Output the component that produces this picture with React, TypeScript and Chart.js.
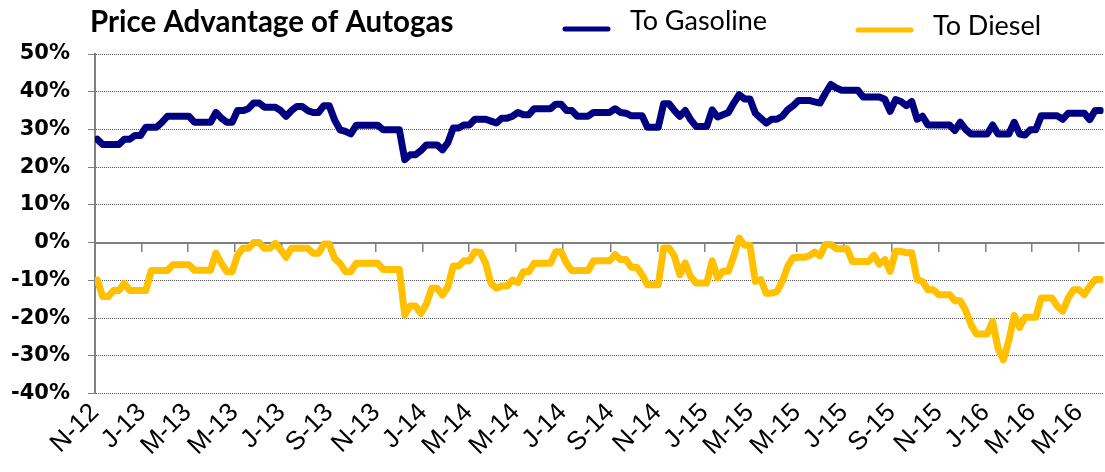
import { useEffect, useRef } from "react";
import { Chart, registerables } from "chart.js";

Chart.register(...registerables);

const chartTitle = "Price Advantage of Autogas";
const seriesNames = ["To Gasoline", "To Diesel"];
const seriesColors = ["#000080", "#FFC000"];

const tickMonths = [
  "2012-11", "2013-01", "2013-03", "2013-05", "2013-07", "2013-09", "2013-11",
  "2014-01", "2014-03", "2014-05", "2014-07", "2014-09", "2014-11",
  "2015-01", "2015-03", "2015-05", "2015-07", "2015-09", "2015-11",
  "2016-01", "2016-03", "2016-05",
];
const tickLabels = [
  "N-12", "J-13", "M-13", "M-13", "J-13", "S-13", "N-13",
  "J-14", "M-14", "M-14", "J-14", "S-14", "N-14",
  "J-15", "M-15", "M-15", "J-15", "S-15", "N-15",
  "J-16", "M-16", "M-16",
];
const axisStart = "2012-11-01";
const axisEnd = "2016-06-02";
const firstWeek = "2012-11-04";

const yMin = -40;
const yMax = 50;
const yStep = 10;

// weekly values, %
const toGasoline = [
  27.4, 26, 26, 26, 26, 27.4, 27.4, 28.4, 28.4, 30.6,
  30.6, 30.6, 31.9, 33.5, 33.5, 33.5, 33.5, 33.5, 31.9, 31.9,
  31.9, 31.9, 34.5, 33, 31.9, 31.9, 35, 35, 35.5, 37,
  37, 35.9, 35.9, 35.9, 35, 33.5, 35, 36.1, 36.1, 35,
  34.5, 34.5, 36.3, 36.3, 32.5, 29.9, 29.5, 28.8, 31.1, 31.1,
  31.1, 31.1, 31.1, 29.9, 29.9, 29.9, 29.9, 22, 23.3, 23.3,
  24.4, 25.9, 25.9, 25.9, 24.6, 26.5, 30.4, 30.4, 31.2, 31.2,
  32.7, 32.7, 32.7, 32.2, 31.7, 33, 33, 33.5, 34.5, 33.9,
  33.9, 35.5, 35.5, 35.5, 35.5, 36.7, 36.7, 35, 35, 33.5,
  33.5, 33.5, 34.5, 34.5, 34.5, 34.5, 35.5, 34.5, 34.3, 33.6,
  33.6, 33.6, 30.6, 30.6, 30.6, 36.8, 36.8, 35, 33.5, 35,
  32.6, 30.8, 30.8, 30.8, 35.2, 33.3, 33.9, 34.5, 37, 39.2,
  38.1, 38.1, 34.3, 33, 31.7, 32.7, 32.7, 33.5, 35.2, 36.3,
  37.7, 37.7, 37.7, 37.3, 37, 39.6, 41.9, 41, 40.4, 40.4,
  40.4, 40.4, 38.6, 38.6, 38.6, 38.6, 38, 34.8, 37.9, 37.4,
  36.3, 37.4, 32.7, 33.5, 31.2, 31.2, 31.2, 31.2, 31.2, 29.7,
  31.9, 30, 28.8, 28.8, 28.8, 28.8, 31.2, 28.8, 28.8, 28.8,
  31.9, 28.8, 28.5, 29.9, 29.9, 33.6, 33.6, 33.6, 33.6, 32.7,
  34.3, 34.3, 34.3, 34.3, 32.6, 35, 35,
];

const toDiesel = [
  -9.9, -14.3, -14.3, -12.7, -12.7, -10.8, -12.7, -12.7, -12.7, -12.7,
  -7.4, -7.4, -7.4, -7.4, -5.9, -5.9, -5.9, -5.9, -7.3, -7.3,
  -7.3, -7.3, -2.8, -5.5, -7.7, -7.7, -3.3, -1.5, -1.5, 0,
  0, -1.5, -1.5, -0.2, -1.9, -3.9, -1.5, -1.5, -1.5, -1.5,
  -2.8, -2.8, -0.4, -0.4, -4.2, -5.5, -7.7, -7.7, -5.5, -5.5,
  -5.5, -5.5, -5.5, -7.1, -7.1, -7.1, -7.1, -19.2, -16.8, -16.8,
  -18.8, -16.3, -12.1, -12.1, -13.9, -11.7, -6.2, -6.2, -4.8, -4.8,
  -2.4, -2.6, -5.5, -10.8, -12.1, -11.5, -11.5, -9.9, -10.6, -7.7,
  -7.7, -5.5, -5.5, -5.5, -5.5, -2.4, -2.4, -5.5, -7.4, -7.4,
  -7.4, -7.4, -4.8, -4.8, -4.8, -4.8, -3.2, -4.5, -4.5, -6.5,
  -6.5, -8.5, -11.2, -11.2, -11.2, -1.4, -1.4, -3.6, -8.5, -5.4,
  -9, -10.7, -10.7, -10.7, -4.8, -9.4, -7.6, -7.6, -3.6, 1.2,
  -0.7, -0.7, -10.3, -9.8, -13.4, -13.4, -13, -10.3, -6.3, -4,
  -3.9, -3.9, -3.5, -2.5, -3.5, -0.5, -0.5, -1.6, -1.6, -1.6,
  -5, -5, -5, -5, -3.4, -5.7, -4.5, -7.6, -2.3, -2.3,
  -2.7, -2.7, -9.8, -10.3, -12.5, -12.5, -13.8, -13.8, -13.8, -15.4,
  -15.4, -18, -21.8, -24.2, -24.2, -24.2, -20.9, -28, -31.1, -26,
  -19.3, -22.5, -19.8, -19.8, -19.8, -14.7, -14.7, -14.7, -16.9, -18.2,
  -14.7, -12.5, -12.5, -13.8, -11.6, -9.8, -9.8,
];

const ORIGIN = Date.UTC(2012, 10, 1);
const dayOf = (s: string) => {
  const [y, m, d] = s.split("-").map(Number);
  return Math.round((Date.UTC(y, m - 1, d || 1) - ORIGIN) / 86400000);
};

const tickDays = tickMonths.map(dayOf);
const xMin = dayOf(axisStart);
const xMax = dayOf(axisEnd);
const weekStart = dayOf(firstWeek);
const weekDays = toGasoline.map((_, i) => weekStart + 7 * i);

const headerPlugin = {
  id: "header",
  afterDraw(chart: any) {
    const ctx = chart.ctx as CanvasRenderingContext2D;
    ctx.save();
    ctx.fillStyle = "#000";
    ctx.textBaseline = "alphabetic";
    ctx.textAlign = "left";
    ctx.font = "bold 29.5px Lato";
    ctx.fillText(chartTitle, 90, 32);
    const spots = [
      { x1: 565, x2: 608, ly: 29, tx: 630, ty: 30 },
      { x1: 858, x2: 911, ly: 30, tx: 933, ty: 35 },
    ];
    chart.data.datasets.forEach((ds: any, i: number) => {
      const p = spots[i];
      if (!p) return;
      ctx.strokeStyle = ds.borderColor;
      ctx.lineWidth = 5;
      ctx.lineCap = "round";
      ctx.beginPath();
      ctx.moveTo(p.x1, p.ly);
      ctx.lineTo(p.x2, p.ly);
      ctx.stroke();
      ctx.fillStyle = "#000";
      ctx.font = "27px Lato";
      ctx.fillText(ds.label, p.tx, p.ty);
    });
    ctx.restore();
  },
};

export default function App() {
  const ref = useRef<HTMLCanvasElement | null>(null);

  useEffect(() => {
    if (!ref.current) return;
    const setTicks = (s: any) => {
      s.ticks = tickDays.map((v) => ({ value: v }));
    };
    const chart = new Chart(ref.current, {
      type: "line",
      data: {
        datasets: [
          {
            label: seriesNames[0],
            data: toGasoline.map((v, i) => ({ x: weekDays[i], y: v })),
            borderColor: seriesColors[0],
            backgroundColor: seriesColors[0],
            borderWidth: 7,
            pointRadius: 0,
            tension: 0,
            borderJoinStyle: "round",
            borderCapStyle: "round",
            xAxisID: "x",
            yAxisID: "y",
          },
          {
            label: seriesNames[1],
            data: toDiesel.map((v, i) => ({ x: weekDays[i], y: v })),
            borderColor: seriesColors[1],
            backgroundColor: seriesColors[1],
            borderWidth: 7,
            pointRadius: 0,
            tension: 0,
            borderJoinStyle: "round",
            borderCapStyle: "round",
            xAxisID: "x",
            yAxisID: "y",
          },
        ],
      },
      options: {
        responsive: false,
        animation: false,
        layout: { padding: { top: 54, left: 0, right: 0, bottom: 0 } },
        plugins: {
          legend: { display: false },
          title: { display: false },
          tooltip: { enabled: false },
        },
        scales: {
          x: {
            type: "linear",
            position: "bottom",
            min: xMin,
            max: xMax,
            afterBuildTicks: setTicks,
            afterFit: (s: any) => {
              s.height = 78.5;
            },
            ticks: {
              autoSkip: false,
              maxRotation: 45,
              minRotation: 45,
              padding: 4,
              color: "#000",
              font: { family: "'Liberation Sans', Arial", size: 26 },
              callback: (v: any) => tickLabels[tickDays.indexOf(Number(v))] ?? "",
            },
            grid: { display: false, drawTicks: false },
            border: { display: false },
          },
          x0: {
            type: "linear",
            position: { y: 0 } as any,
            min: xMin,
            max: xMax,
            afterBuildTicks: setTicks,
            afterFit: (s: any) => {
              s.height = 0;
            },
            ticks: { display: false },
            grid: {
              drawOnChartArea: false,
              drawTicks: true,
              tickLength: 8,
              color: "#808080",
              lineWidth: 1.5,
            },
            border: { display: true, color: "#808080", width: 2 },
          },
          y: {
            type: "linear",
            position: "left",
            min: yMin,
            max: yMax,
            afterFit: (s: any) => {
              s.width = 95;
            },
            ticks: {
              stepSize: yStep,
              padding: 18,
              color: "#000",
              font: { family: "'DejaVu Sans'", size: 21, weight: "bold" },
              callback: (v: any) => `${v}%`,
            },
            grid: {
              color: "#555",
              lineWidth: 1,
              tickLength: 7,
              tickColor: "#808080",
              drawTicks: true,
            },
            border: { display: true, color: "#808080", width: 2, dash: [1, 1] },
          },
        },
      },
      plugins: [headerPlugin],
    } as any);
    return () => chart.destroy();
  }, []);

  return (
    <div style={{ position: "absolute", left: 0, top: 0, width: 1105, height: 472, background: "#fff" }}>
      <canvas ref={ref} width={1105} height={472} />
    </div>
  );
}
